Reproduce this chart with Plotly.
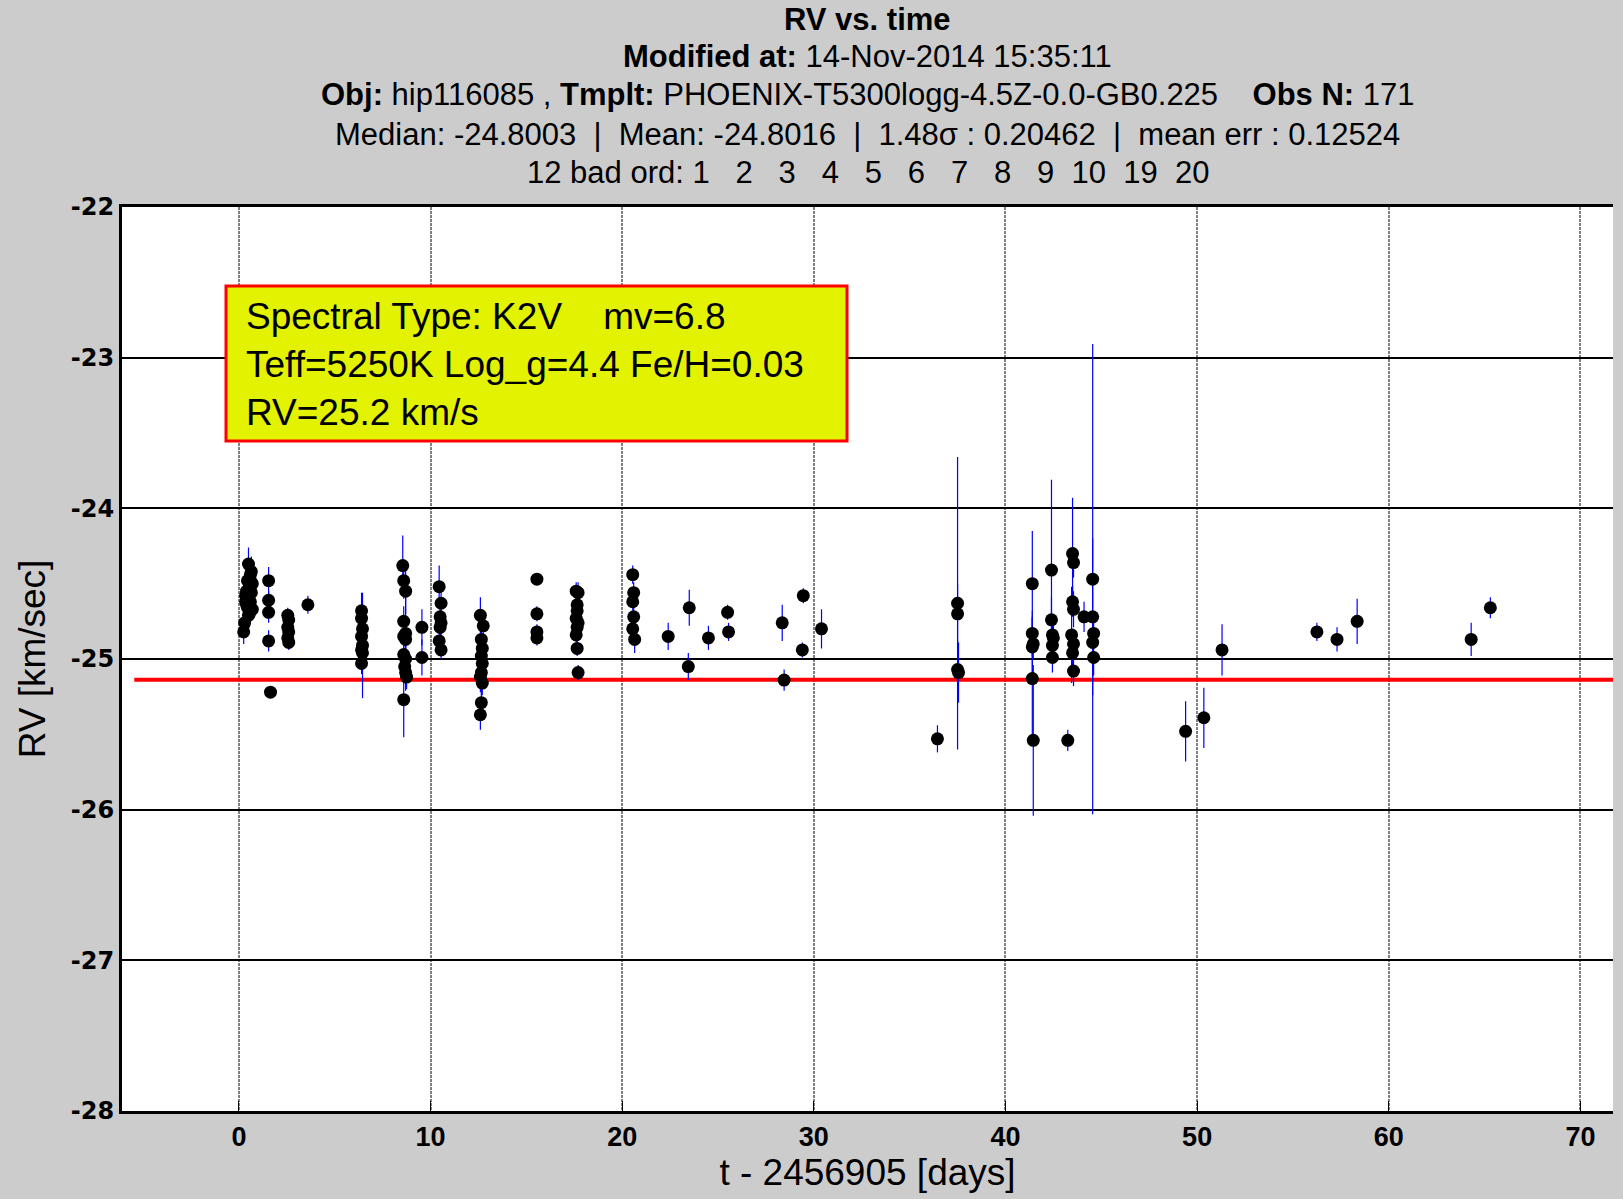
import plotly.graph_objects as go

# ---- data (t - 2456905 [days], RV [km/s], error) ----
t_days = [
    0.25, 0.30, 0.35, 0.40, 0.45, 0.45, 0.50, 0.50, 0.55, 0.55, 0.60, 0.60, 0.65, 0.65, 0.70, 0.70, 0.35, 0.50, 0.60, 0.40,
    1.55, 1.55, 1.55, 1.55, 1.65,
    2.55, 2.55, 2.60, 2.60, 2.55, 2.60,
    3.60,
    6.40, 6.40, 6.45, 6.40, 6.45, 6.40, 6.45, 6.40,
    8.55, 8.60, 8.70, 8.60, 8.70, 8.60, 8.70, 8.60, 8.70, 8.65, 8.70, 8.75, 8.60,
    9.55, 9.55,
    10.45, 10.55, 10.50, 10.55, 10.50, 10.45, 10.55,
    12.60, 12.75, 12.65, 12.70, 12.65, 12.70, 12.65, 12.60, 12.70, 12.65, 12.60,
    15.55, 15.55, 15.55, 15.55,
    17.60, 17.70, 17.65, 17.65, 17.60, 17.70, 17.65, 17.60, 17.65, 17.70,
    20.55, 20.60, 20.55, 20.60, 20.55, 20.65,
    22.40, 23.50, 23.45, 24.50, 25.50, 25.55,
    28.35, 28.45, 29.45, 29.40, 30.40,
    36.45, 37.50, 37.50, 37.50, 37.55,
    41.40, 41.40, 41.45, 41.40, 41.45, 41.40,
    42.40, 42.40, 42.45, 42.50, 42.45, 42.45,
    43.50, 43.55, 43.50, 43.55, 43.55, 43.50, 43.55, 43.45, 43.25,
    44.10, 44.55, 44.55, 44.60, 44.55, 44.60,
    49.40, 50.35, 51.30,
    56.25, 57.30, 58.35,
    64.30, 65.30,
]
rv_kms = [
    -24.82, -24.76, -24.62, -24.55, -24.48, -24.66, -24.37, -24.60, -24.52, -24.70, -24.44, -24.62, -24.42, -24.56, -24.50, -24.67, -24.58, -24.71, -24.48, -24.64,
    -24.48, -24.61, -24.69, -24.88, -25.22,
    -24.71, -24.79, -24.74, -24.82, -24.86, -24.89,
    -24.64,
    -24.68, -24.73, -24.80, -24.85, -24.91, -24.94, -24.96, -25.03,
    -24.38, -24.48, -24.55, -24.75, -24.83, -24.85, -24.87, -24.97, -25.00, -25.05, -25.09, -25.12, -25.27,
    -24.79, -24.99,
    -24.52, -24.63, -24.72, -24.76, -24.79, -24.88, -24.94,
    -24.71, -24.78, -24.87, -24.93, -24.98, -25.03, -25.09, -25.12, -25.16, -25.29, -25.37,
    -24.47, -24.70, -24.82, -24.86,
    -24.55, -24.56, -24.64, -24.68, -24.73, -24.76, -24.79, -24.84, -24.93, -25.09,
    -24.44, -24.56, -24.62, -24.72, -24.80, -24.87,
    -24.85, -24.66, -25.05, -24.86, -24.69, -24.82,
    -24.76, -25.14, -24.58, -24.94, -24.80,
    -25.53, -24.63, -24.70, -25.07, -25.09,
    -24.50, -24.83, -24.90, -25.13, -25.54, -24.92,
    -24.41, -24.74, -24.84, -24.86, -24.91, -24.99,
    -24.30, -24.36, -24.62, -24.67, -24.90, -24.96, -25.08, -24.84, -25.54,
    -24.72, -24.47, -24.72, -24.83, -24.89, -24.99,
    -25.48, -25.39, -24.94,
    -24.82, -24.87, -24.75,
    -24.87, -24.66,
]
rv_err = [
    0.08, 0.10, 0.10, 0.08, 0.08, 0.06, 0.11, 0.08, 0.07, 0.09, 0.08, 0.07, 0.10, 0.06, 0.08, 0.07, 0.06, 0.08, 0.06, 0.07,
    0.09, 0.06, 0.07, 0.07, 0.04,
    0.05, 0.06, 0.05, 0.05, 0.06, 0.05,
    0.06,
    0.12, 0.06, 0.07, 0.08, 0.35, 0.07, 0.06, 0.07,
    0.20, 0.12, 0.15, 0.10, 0.12, 0.10, 0.30, 0.12, 0.10, 0.10, 0.12, 0.08, 0.25,
    0.12, 0.12,
    0.14, 0.10, 0.12, 0.08, 0.10, 0.08, 0.06,
    0.12, 0.09, 0.08, 0.10, 0.12, 0.10, 0.08, 0.10, 0.08, 0.10, 0.10,
    0.03, 0.05, 0.05, 0.05,
    0.06, 0.07, 0.06, 0.05, 0.05, 0.06, 0.05, 0.06, 0.05, 0.05,
    0.06, 0.07, 0.06, 0.08, 0.09, 0.09,
    0.09, 0.12, 0.09, 0.08, 0.05, 0.06,
    0.12, 0.07, 0.05, 0.05, 0.13,
    0.09, 0.97, 0.20, 0.19, 0.20,
    0.35, 0.15, 0.10, 0.40, 0.50, 0.20,
    0.60, 0.15, 0.12, 0.10, 0.12, 0.10,
    0.37, 0.10, 0.10, 0.12, 0.10, 0.12, 0.10, 0.32, 0.07,
    0.10, 1.56, 0.52, 0.10, 0.10, 0.12,
    0.20, 0.20, 0.17,
    0.06, 0.08, 0.15,
    0.11, 0.07,
]
template_rv = -25.137
ref_line_x = [-5.46, 72.0]

x_ticks = [0, 10, 20, 30, 40, 50, 60, 70]
y_ticks = [-28, -27, -26, -25, -24, -23, -22]

title_lines = [
    "<b>RV vs. time</b>",
    "<b>Modified at:</b> 14-Nov-2014 15:35:11",
    "<b>Obj:</b> hip116085 , <b>Tmplt:</b> PHOENIX-T5300logg-4.5Z-0.0-GB0.225    <b>Obs N:</b> 171",
    "Median: -24.8003  |  Mean: -24.8016  |  1.48σ : 0.20462  |  mean err : 0.12524",
    "12 bad ord: 1   2   3   4   5   6   7   8   9  10  19  20",
]
info_text = "Spectral Type: K2V    mv=6.8<br>Teff=5250K Log_g=4.4 Fe/H=0.03<br>RV=25.2 km/s"

W, H = 1623, 1199
L, R, T, B = 122, 10, 207, 88

fig = go.Figure()
fig.add_trace(go.Scatter(
    x=ref_line_x, y=[template_rv, template_rv], mode="lines",
    line=dict(color="#ff0000", width=4), showlegend=False, hoverinfo="skip",
))
fig.add_trace(go.Scatter(
    x=t_days, y=rv_kms, mode="markers",
    marker=dict(color="black", size=13),
    error_y=dict(type="data", array=rv_err, visible=True, color="#0000ff", thickness=1.2, width=0),
    showlegend=False,
))

font_main = "Liberation Sans, Arial, sans-serif"
annotations = []
title_y = [19, 56, 94, 134, 172]
for txt, yy in zip(title_lines, title_y):
    annotations.append(dict(
        text=txt, xref="paper", yref="paper", x=0.5,
        y=1 + (T - yy) / (H - T - B), xanchor="center", yanchor="middle",
        showarrow=False, font=dict(family=font_main, size=31, color="black"),
    ))

# info box
bx0, by0, bx1, by1 = 226, 286, 847, 441
pw, ph = W - L - R, H - T - B
fig.add_shape(type="rect", xref="paper", yref="paper",
              x0=(bx0 - L) / pw, x1=(bx1 - L) / pw,
              y0=1 - (by1 - T) / ph, y1=1 - (by0 - T) / ph,
              fillcolor="#e2f200", line=dict(color="#ff0000", width=3), layer="above")
annotations.append(dict(
    text=info_text, xref="paper", yref="paper",
    x=(244 - L) / pw, y=1 - (364 - T) / ph, xanchor="left", yanchor="middle",
    align="left", showarrow=False,
    font=dict(family=font_main, size=37, color="black"),
))

fig.update_layout(
    width=W, height=H,
    margin=dict(l=L, r=R, t=T, b=B),
    paper_bgcolor="#cccccc", plot_bgcolor="white",
    annotations=annotations,
    xaxis=dict(
        range=[-6.1, 71.7], tickvals=x_ticks, ticktext=[str(v) for v in x_ticks],
        showgrid=True, gridcolor="#808080", griddash="3px,1px", gridwidth=2,
        zeroline=False, showline=True, linecolor="black", linewidth=3, mirror=True,
        ticks="inside", ticklen=10, tickcolor="black",
        tickfont=dict(family=font_main, size=27, color="black", weight="bold"),
        title=dict(text="t - 2456905 [days]", font=dict(family=font_main, size=37, color="black"), standoff=6),
    ),
    yaxis=dict(
        range=[-28, -22], tickvals=y_ticks, ticktext=[str(v) for v in y_ticks],
        showgrid=True, gridcolor="black", gridwidth=2,
        zeroline=False, showline=True, linecolor="black", linewidth=3, mirror=False,
        ticks="inside", ticklen=10, tickcolor="black",
        tickfont=dict(family="DejaVu Sans, sans-serif", size=24, color="black", weight="bold"),
        title=dict(text="RV [km/sec]", font=dict(family=font_main, size=37, color="black"), standoff=14),
    ),
)

fig.write_html("out.html")
